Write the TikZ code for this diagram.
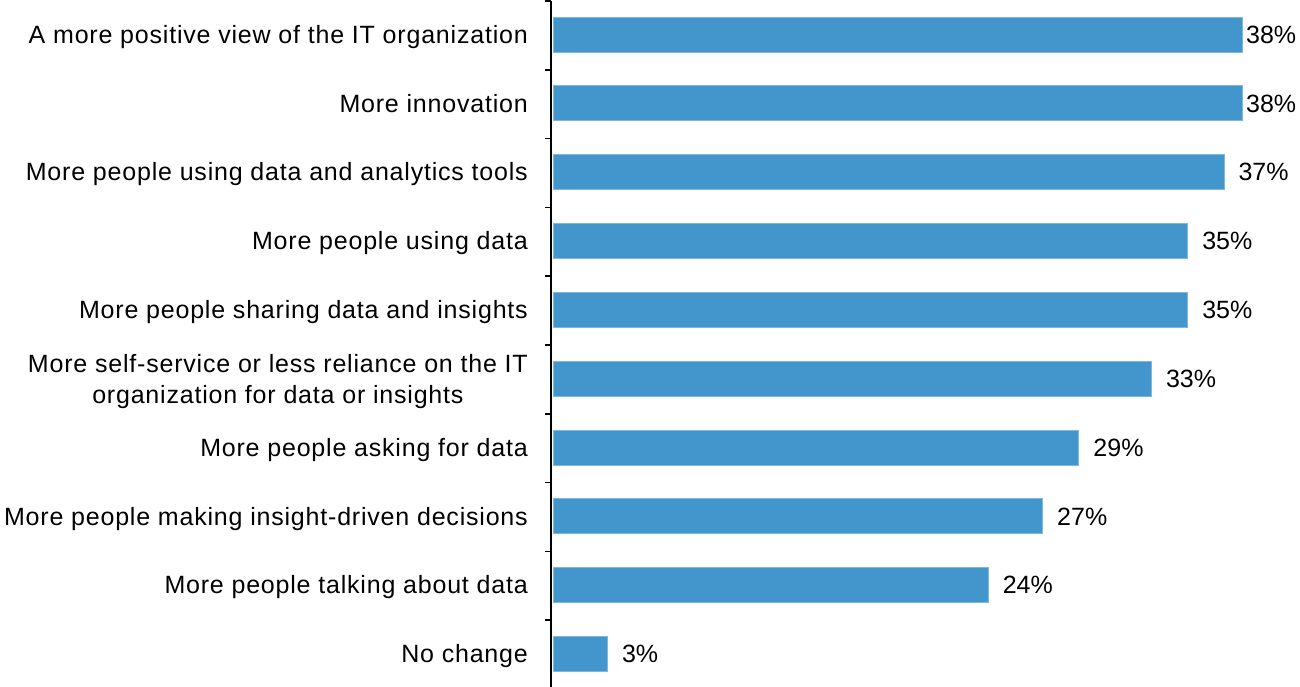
\documentclass[tikz,border=0pt]{standalone}
\usepackage{fontspec}
\setmainfont{Liberation Sans}
\newfontfamily\catfont{Liberation Sans}[LetterSpace=3.2]
\usetikzlibrary{positioning}
\definecolor{barblue}{HTML}{4296CB}
\definecolor{baredge}{HTML}{7DB8E0}

\begin{document}
\begin{tikzpicture}[x=1pt, y=-1pt,
    bar/.style={fill=barblue, draw=baredge, line width=0.6pt},
    cat/.style={anchor=east, inner sep=0pt, font=\catfont\fontsize{25}{31}\selectfont, text height=17.8pt, text depth=0pt},
    cattwo/.style={anchor=east, inner sep=0pt, font=\catfont\fontsize{25}{31}\selectfont, align=center, yshift=-3pt},
    val/.style={anchor=west, inner sep=0pt, font=\fontsize{25}{28}\selectfont, text height=17.8pt, text depth=0pt},
    axisline/.style={line width=1.6pt}]
    \useasboundingbox (0,0) rectangle (1300,687);

    % bars, categories and values
    \foreach \v/\gap/\sty/\txt [count=\i from 0] in {
        38/4/cat/{A more positive view of the IT organization},
        38/4/cat/{More innovation},
        37/14.5/cat/{More people using data and analytics tools},
        35/14.5/cat/{More people using data},
        35/14.5/cat/{More people sharing data and insights},
        33/14.5/cattwo/{More self-service or less reliance on the IT\\organization for data or insights},
        29/14.5/cat/{More people asking for data},
        27/14.5/cat/{More people making insight-driven decisions},
        24/14.5/cat/{More people talking about data},
        3/14.5/cat/{No change}}{
        \pgfmathsetmacro{\yc}{34.5+68.8*\i}
        \pgfmathsetmacro{\xe}{553+18.13*\v}
        \draw[bar] (553,\yc-17.5) rectangle (\xe,\yc+17.5);
        \node[\sty] (cat\i) at (528,\yc) {\txt};
        \node[val] (val\i) at (\xe+\gap,\yc) {\v\%};
    }

    % axis with ticks
    \draw[axisline] (551,1) -- (551,687);
    \foreach \k in {0,...,10}
        \draw[axisline] (545,1+68.8*\k) -- (551,1+68.8*\k);
\end{tikzpicture}
\end{document}
